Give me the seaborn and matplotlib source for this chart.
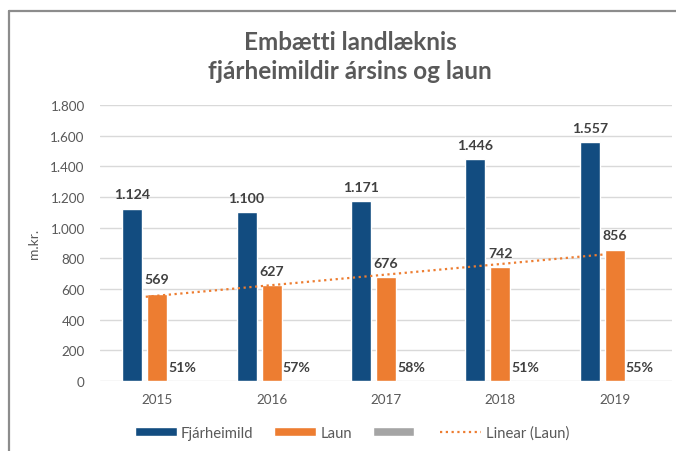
import matplotlib

matplotlib.use("Agg")
import matplotlib.pyplot as plt
import numpy as np
import pandas as pd
import seaborn as sns
from matplotlib.lines import Line2D
from matplotlib.patches import Patch

# data
years = ["2015", "2016", "2017", "2018", "2019"]
fjarheimild = [1124, 1100, 1171, 1446, 1557]
laun = [569, 627, 676, 742, 856]
hlutfall = [0.51, 0.57, 0.58, 0.51, 0.55]
series_names = ["Fjárheimild", "Laun", "Hlutfall"]

BLUE = "#124c80"
ORANGE = "#ed7d31"
GREY = "#a5a5a5"
TEXT = "#595959"
LABEL = "#404040"

sns.set_theme(style="white")
plt.rcParams["font.family"] = ["Lato", "DejaVu Sans"]

df = pd.DataFrame({
    "year": years * 3,
    "series": np.repeat(series_names, len(years)),
    "value": fjarheimild + laun + hlutfall,
})

fig = plt.figure(figsize=(6.76, 4.52), dpi=100)
ax = fig.add_axes([100 / 676, 1 - 382 / 452, 572 / 676, 276 / 452])

sns.barplot(
    data=df, x="year", y="value", hue="series",
    palette=[BLUE, ORANGE, GREY], width=0.656, gap=0.2,
    saturation=1, ax=ax, legend=False, zorder=2,
)

# data labels
fmt_thousand = lambda v: f"{v:,.0f}".replace(",", ".")
lab_kw = dict(padding=6, fontsize=10.2, fontweight="bold", color=LABEL)
ax.bar_label(ax.containers[0], labels=[fmt_thousand(v) for v in fjarheimild], **lab_kw)
ax.bar_label(ax.containers[1], labels=[fmt_thousand(v) for v in laun], **lab_kw)
ax.bar_label(ax.containers[2], labels=[f"{v:.0%}" for v in hlutfall], **lab_kw)

# linear trend for Laun
pos = np.arange(len(years))
coef = np.polyfit(pos, laun, 1)
xs = np.array([pos[0] - 0.1, pos[-1] - 0.1])
ax.plot(xs, np.polyval(coef, xs), color=ORANGE, lw=1.6,
        ls=(0, (1, 1.6)), zorder=4)

ax.set_ylim(0, 1800)
ax.set_yticks(np.arange(0, 1801, 200))
ax.set_yticklabels([fmt_thousand(v) for v in np.arange(0, 1801, 200)])
ax.set_xlim(-0.5, len(years) - 0.5)
ax.yaxis.grid(True, color="#d9d9d9", lw=1, zorder=0)
ax.set_axisbelow(True)
for s in ax.spines.values():
    s.set_visible(False)
ax.tick_params(axis="both", length=0, labelsize=9.7, labelcolor=TEXT)
ax.tick_params(axis="y", pad=11)
ax.tick_params(axis="x", pad=9)
ax.set_xlabel("")
ax.set_ylabel("m.kr.", fontsize=10, color=TEXT)
ax.yaxis.set_label_coords(-0.105, 0.5)

fig.text(350 / 676, 1 - 57 / 452, "Embætti landlæknis\nfjárheimildir ársins og laun",
         ha="center", va="center", fontsize=17.5, fontweight="bold",
         color=TEXT, linespacing=1.35)

handles = [
    Patch(facecolor=BLUE),
    Patch(facecolor=ORANGE),
    Patch(facecolor=GREY),
    Line2D([0], [0], color=ORANGE, lw=1.6, ls=(0, (1, 1.6))),
]
fig.legend(handles, ["Fjárheimild", "Laun", "", "Linear (Laun)"],
           loc="center", bbox_to_anchor=(352 / 676, 1 - 434 / 452), ncol=4,
           frameon=False, fontsize=10.7, labelcolor=TEXT, handlelength=2.8,
           handleheight=0.55, handletextpad=0.3, columnspacing=1.4)

# chart frame (top and left edges visible in the reference)
fig.add_artist(Line2D([9 / 676, 1], [1 - 12 / 452, 1 - 12 / 452], color="#8c8c8c", lw=1.6))
fig.add_artist(Line2D([9 / 676, 9 / 676], [0, 1 - 12 / 452], color="#8c8c8c", lw=1.6))

fig.savefig("out.png", dpi=100)
